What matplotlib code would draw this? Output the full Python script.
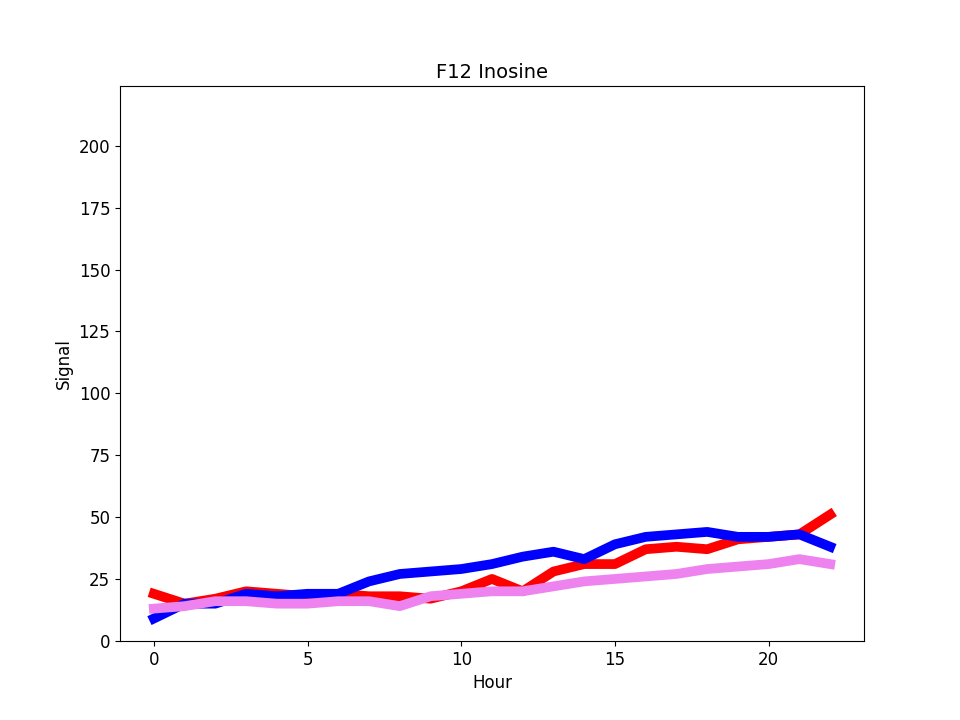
import matplotlib
matplotlib.use("Agg")
import matplotlib.pyplot as plt

hours = list(range(23))
red = [19, 15, 17, 20, 19, 18, 19, 18, 18, 17, 20, 25, 20, 28, 31, 31, 37, 38, 37, 41, 42, 43, 51]
blue = [9, 15, 15, 19, 18, 19, 19, 24, 27, 28, 29, 31, 34, 36, 33, 39, 42, 43, 44, 42, 42, 43, 38]
violet = [13, 14, 16, 16, 15, 15, 16, 16, 14, 18, 19, 20, 20, 22, 24, 25, 26, 27, 29, 30, 31, 33, 31]

fig, ax = plt.subplots(figsize=(9.6, 7.2), dpi=100)
ax.plot(hours, red, color="red", linewidth=7)
ax.plot(hours, blue, color="blue", linewidth=7)
ax.plot(hours, violet, color="violet", linewidth=7)
ax.set_ylim(0, 224)
ax.set_title("F12 Inosine", fontsize=14)
ax.set_xlabel("Hour", fontsize=12)
ax.set_ylabel("Signal", fontsize=12)
ax.tick_params(labelsize=12)
fig.savefig("out.png")
